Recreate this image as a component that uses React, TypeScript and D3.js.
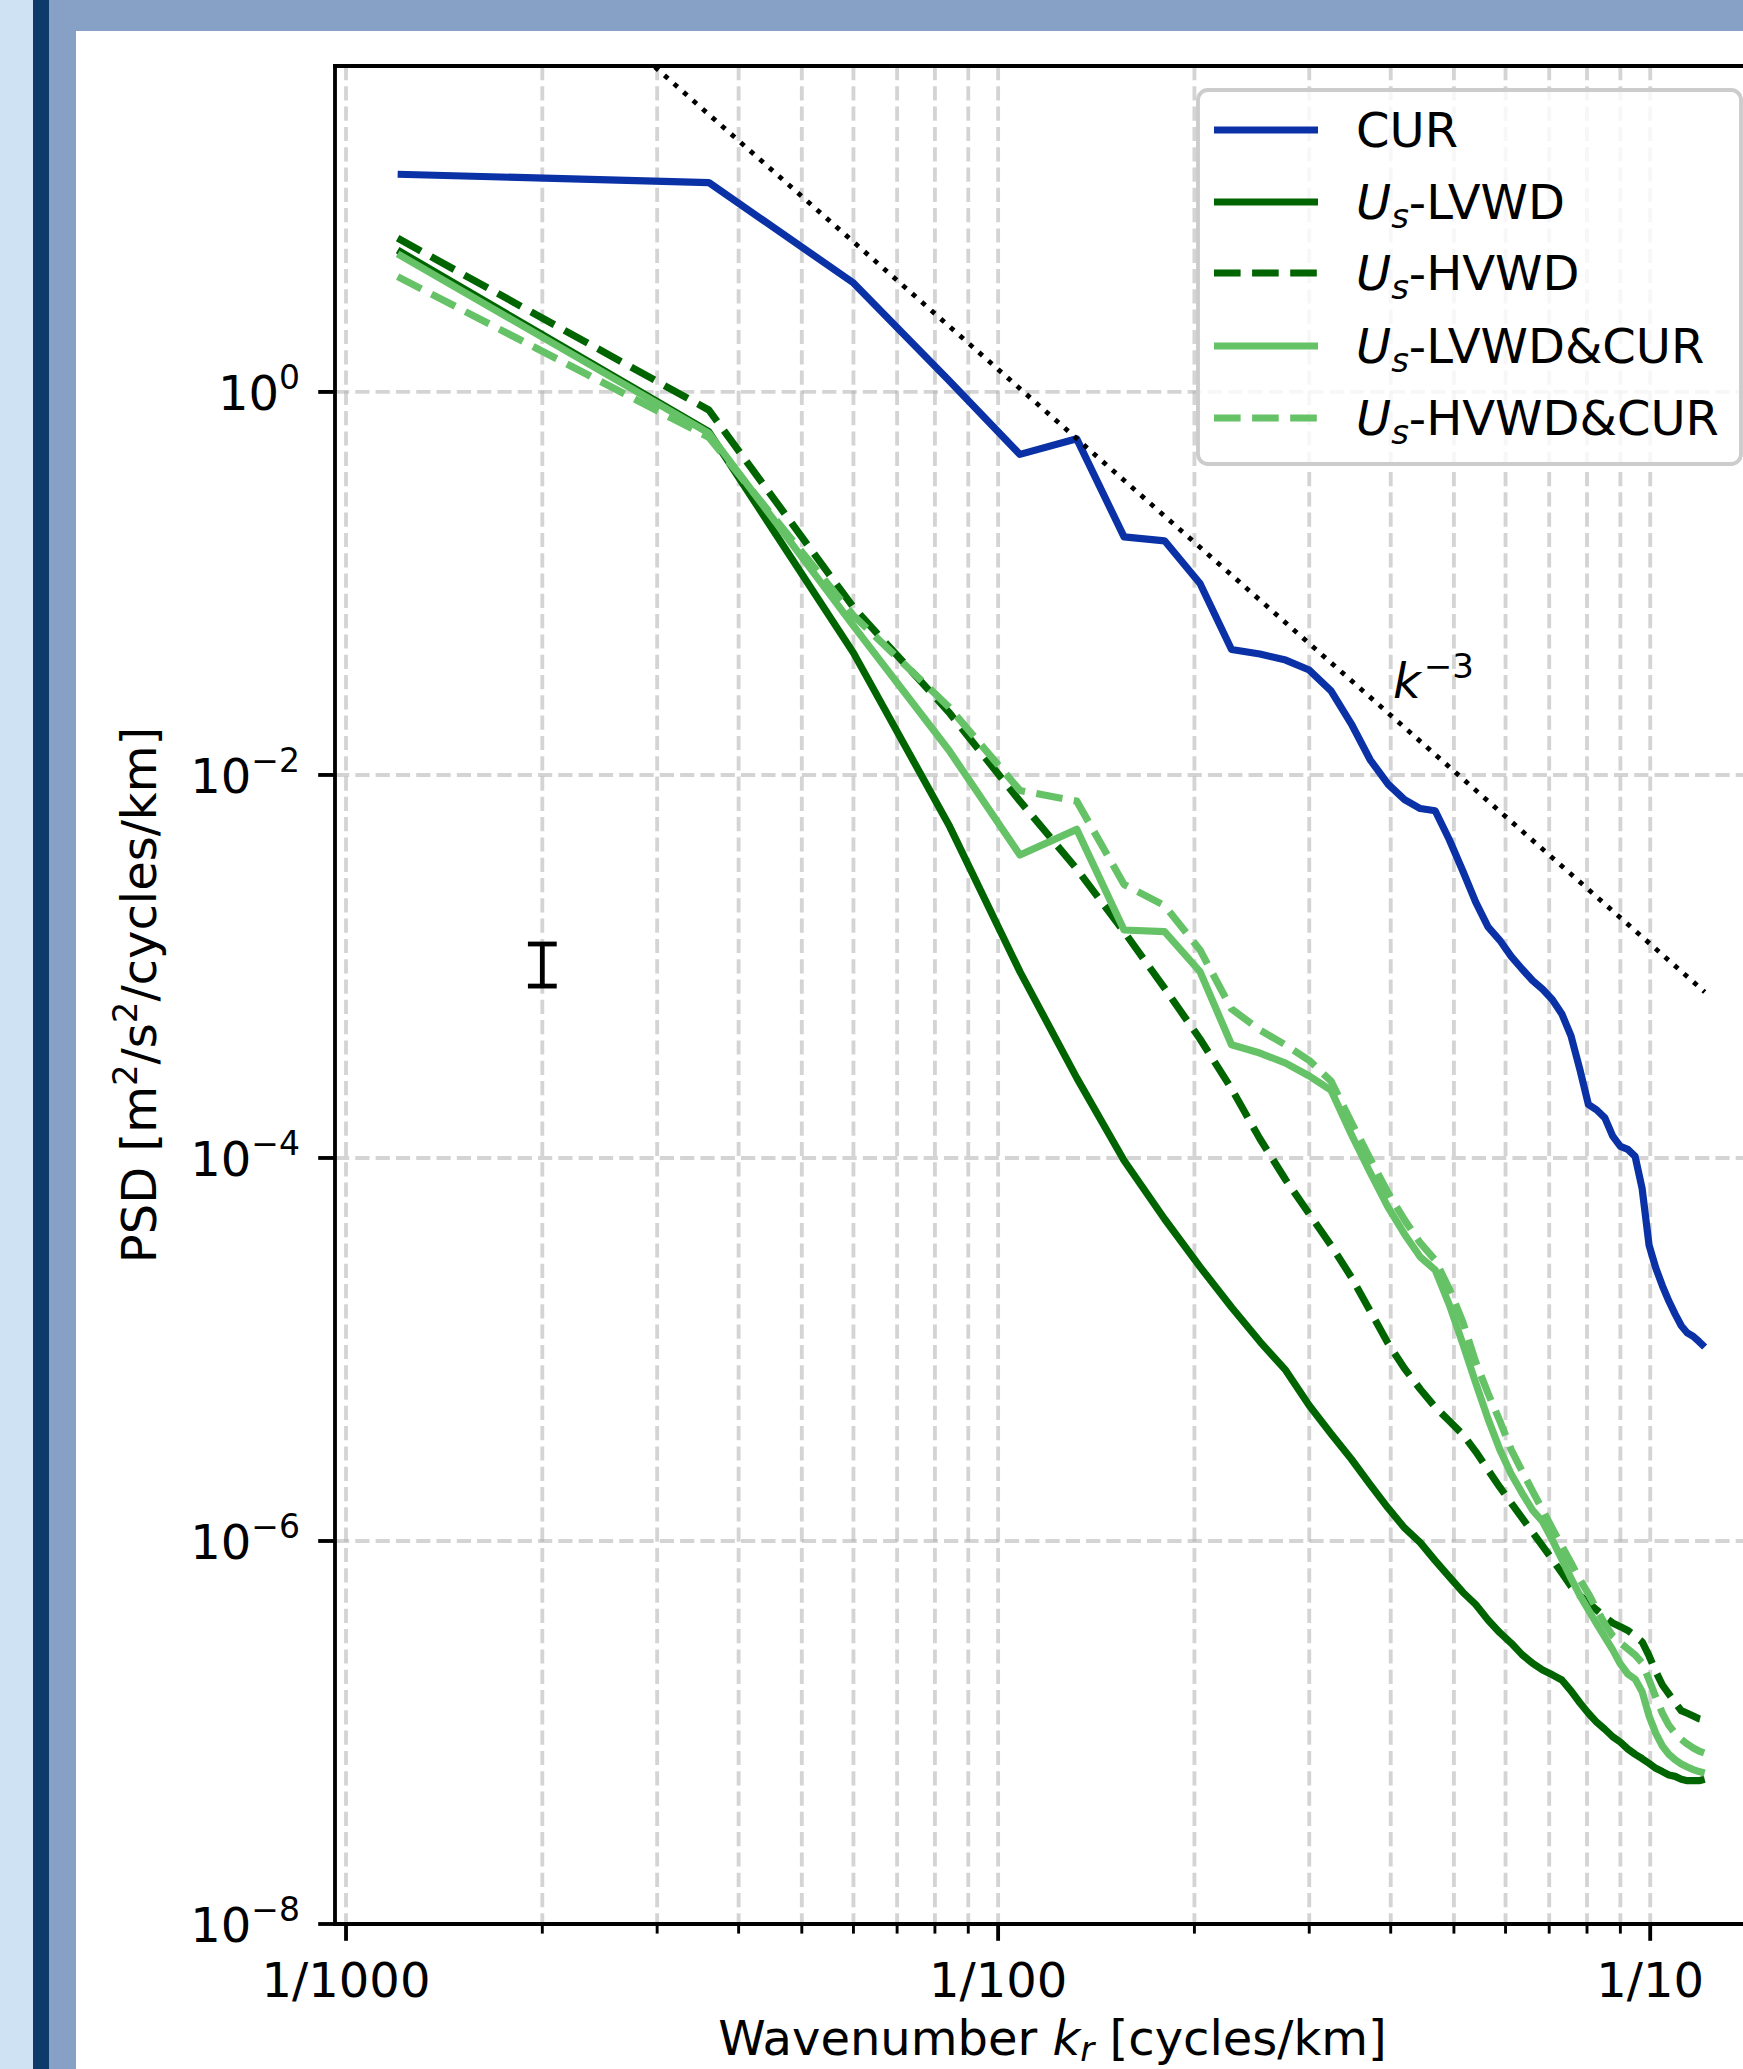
import React from 'react';
import * as d3 from 'd3';

const W = 1743;
const H = 2069;

// wavenumber bins (cycles/km)
const wavenumber = [
  0.0012, 0.0036, 0.006, 0.0084, 0.0108, 0.0132, 0.0156, 0.018, 0.0204, 0.0228,
  0.0252, 0.0276, 0.03, 0.0324, 0.0348, 0.0372, 0.0396, 0.042, 0.0444, 0.0468,
  0.0492, 0.0516, 0.054, 0.0564, 0.0588, 0.0612, 0.0636, 0.066, 0.0684, 0.0708,
  0.0732, 0.0756, 0.078, 0.0804, 0.0828, 0.0852, 0.0876, 0.09, 0.0924, 0.0948,
  0.0972, 0.0996, 0.102, 0.1044, 0.1068, 0.1092, 0.1116, 0.114, 0.1164, 0.1188,
  0.1212,
];

const psdCUR = [
  13.7, 12.4, 3.71, 1.15, 0.472, 0.569, 0.175, 0.167, 0.1, 0.0452,
  0.0428, 0.0398, 0.0353, 0.0275, 0.0185, 0.012, 0.00897, 0.00744, 0.00668, 0.0065,
  0.00459, 0.00315, 0.00217, 0.00161, 0.00137, 0.00113, 9.7e-4, 8.45e-4, 7.6e-4, 6.7e-4,
  5.65e-4, 4.34e-4, 2.9e-4, 1.9e-4, 1.78e-4, 1.62e-4, 1.3e-4, 1.15e-4, 1.11e-4, 1.02e-4,
  6.9e-5, 3.5e-5, 2.66e-5, 2.15e-5, 1.79e-5, 1.53e-5, 1.33e-5, 1.22e-5, 1.17e-5, 1.1e-5,
  1.03e-5,
];

const psdLVWD = [
  5.5, 0.62, 0.0434, 5.5e-3, 9.4e-4, 2.62e-4, 9.7e-5, 4.8e-5, 2.7e-5, 1.66e-5,
  1.1e-5, 7.8e-6, 5.1e-6, 3.63e-6, 2.68e-6, 1.97e-6, 1.49e-6, 1.17e-6, 9.8e-7, 7.9e-7,
  6.5e-7, 5.4e-7, 4.66e-7, 3.87e-7, 3.32e-7, 2.93e-7, 2.55e-7, 2.3e-7, 2.12e-7, 2.0e-7,
  1.88e-7, 1.65e-7, 1.43e-7, 1.26e-7, 1.13e-7, 1.04e-7, 9.5e-8, 8.9e-8, 8.2e-8, 7.7e-8,
  7.3e-8, 6.9e-8, 6.5e-8, 6.25e-8, 6.0e-8, 5.9e-8, 5.7e-8, 5.6e-8, 5.6e-8, 5.6e-8,
  5.7e-8,
];

const psdHVWD = [
  6.35, 0.805, 0.075, 0.0213, 7.3e-3, 3.23e-3, 1.52e-3, 7.7e-4, 4.18e-4, 2.3e-4,
  1.26e-4, 7.7e-5, 5.1e-5, 3.5e-5, 2.39e-5, 1.59e-5, 1.08e-5, 7.96e-6, 6.2e-6, 5.0e-6,
  4.23e-6, 3.6e-6, 2.93e-6, 2.35e-6, 1.91e-6, 1.58e-6, 1.32e-6, 1.11e-6, 9.4e-7, 8.0e-7,
  6.8e-7, 5.8e-7, 5.2e-7, 4.74e-7, 4.36e-7, 4.0e-7, 3.73e-7, 3.57e-7, 3.41e-7, 3.19e-7,
  2.97e-7, 2.51e-7, 2.08e-7, 1.77e-7, 1.59e-7, 1.43e-7, 1.3e-7, 1.26e-7, 1.22e-7, 1.18e-7,
  1.16e-7,
];

const psdLVWDCUR = [
  5.26, 0.61, 0.06, 0.0135, 3.82e-3, 5.2e-3, 1.55e-3, 1.52e-3, 9.4e-4, 3.9e-4,
  3.53e-4, 3.13e-4, 2.68e-4, 2.26e-4, 1.33e-4, 8.4e-5, 5.55e-5, 4.0e-5, 3.04e-5, 2.6e-5,
  1.71e-5, 1.07e-5, 6.7e-6, 4.34e-6, 3.0e-6, 2.24e-6, 1.78e-6, 1.45e-6, 1.26e-6, 1.01e-6,
  8.0e-7, 6.4e-7, 5.2e-7, 4.36e-7, 3.69e-7, 3.15e-7, 2.7e-7, 2.28e-7, 2.02e-7, 1.9e-7,
  1.63e-7, 1.22e-7, 9.9e-8, 8.5e-8, 7.7e-8, 7.2e-8, 6.85e-8, 6.6e-8, 6.4e-8, 6.25e-8,
  6.15e-8,
];

const psdHVWDCUR = [
  4.0, 0.58, 0.068, 0.0227, 8.3e-3, 7.3e-3, 2.68e-3, 2.08e-3, 1.22e-3, 6.0e-4,
  4.66e-4, 3.89e-4, 3.23e-4, 2.52e-4, 1.54e-4, 9.9e-5, 6.6e-5, 4.75e-5, 3.6e-5, 2.93e-5,
  2.07e-5, 1.39e-5, 8.6e-6, 5.9e-6, 4.24e-6, 3.0e-6, 2.32e-6, 1.82e-6, 1.45e-6, 1.16e-6,
  9.4e-7, 7.7e-7, 6.3e-7, 5.3e-7, 4.4e-7, 3.69e-7, 3.19e-7, 2.93e-7, 2.73e-7, 2.54e-7,
  2.31e-7, 1.88e-7, 1.53e-7, 1.26e-7, 1.09e-7, 9.9e-8, 9.2e-8, 8.7e-8, 8.3e-8, 8.0e-8,
  7.8e-8,
];

// k^-3 reference line end points
const refK = [0.0012, 0.1212];
const refPSD = [760, 7.36e-4];

// error bar (confidence interval)
const errK = 0.002;
const errLow = 7.9e-4;
const errHigh = 1.31e-3;

const yTicks = [1, 1e-2, 1e-4, 1e-6, 1e-8];
const yTickExp = ['0', '\u22122', '\u22124', '\u22126', '\u22128'];
const xMajorTicks = [0.001, 0.01, 0.1];
const xMajorLabels = ['1/1000', '1/100', '1/10'];

const seriesNames = ['CUR', 'LVWD', 'HVWD', 'LVWD&CUR', 'HVWD&CUR'];
const seriesColors = ['#0a31a6', '#006400', '#006400', '#66c266', '#66c266'];
const seriesDashed = [false, false, true, false, true];
const seriesValues = [psdCUR, psdLVWD, psdHVWD, psdLVWDCUR, psdHVWDCUR];

const FONT = '"DejaVu Sans", sans-serif';

const App = () => {
  const left = 335, right = 1770, top = 66, bottom = 1924;

  const x = d3.scaleLog()
    .domain([Math.pow(10, -3.0169), Math.pow(10, -0.8163)])
    .range([left, right]);
  const y = d3.scaleLog()
    .domain([1e-8, Math.pow(10, 1.702)])
    .range([bottom, top]);

  const allTicks = x.ticks().filter(t => t >= x.domain()[0] && t <= x.domain()[1]);
  const isMajor = (t: number) => Math.abs(Math.log10(t) - Math.round(Math.log10(t))) < 1e-6;

  const line = d3.line<[number, number]>()
    .x(d => x(d[0]))
    .y(d => y(d[1]));

  const refPath = line(refK.map((k, i) => [k, refPSD[i]] as [number, number]));

  const legendRows = [130, 202, 273, 346, 418];

  return (
    <svg width={W} height={H} style={{ position: 'absolute', left: 0, top: 0 }}
      fontFamily={FONT}>
      <defs>
        <clipPath id="plotClip">
          <rect x={left} y={top} width={right - left} height={bottom - top} />
        </clipPath>
      </defs>

      {/* page frame */}
      <rect x={0} y={0} width={W} height={H} fill="#ffffff" />
      <rect x={0} y={0} width={33} height={H} fill="#cfe2f3" />
      <rect x={33} y={0} width={16} height={H} fill="#0c3a6b" />
      <rect x={49} y={0} width={27} height={H} fill="#87a0c5" />
      <rect x={49} y={0} width={W - 49} height={31} fill="#87a0c5" />

      {/* grid */}
      <g stroke="#b0b0b0" strokeOpacity={0.55} strokeWidth={3.84} strokeDasharray="14.2,6.1">
        {allTicks.map((t, i) => (
          <line key={'gx' + i} x1={x(t)} x2={x(t)} y1={top} y2={bottom} />
        ))}
        {yTicks.map((t, i) => (
          <line key={'gy' + i} x1={left} x2={right} y1={y(t)} y2={y(t)} />
        ))}
      </g>

      {/* data */}
      <g clipPath="url(#plotClip)" fill="none">
        {seriesValues.map((vals, si) => (
          <path key={seriesNames[si]}
            d={line(wavenumber.map((k, i) => [k, vals[i]] as [number, number])) || ''}
            stroke={seriesColors[si]} strokeWidth={7.2}
            strokeDasharray={seriesDashed[si] ? '26.6,11.5' : undefined}
            strokeLinejoin="round" />
        ))}
        <path d={refPath || ''} stroke="#000" strokeWidth={4.8} strokeDasharray="4.8,7.9" />
        <g stroke="#000" strokeWidth={4.8}>
          <line x1={x(errK)} x2={x(errK)} y1={y(errLow)} y2={y(errHigh)} />
          <line x1={x(errK) - 14.4} x2={x(errK) + 14.4} y1={y(errLow)} y2={y(errLow)} />
          <line x1={x(errK) - 14.4} x2={x(errK) + 14.4} y1={y(errHigh)} y2={y(errHigh)} />
        </g>
      </g>

      {/* k^-3 label */}
      <text x={1393} y={698} fontSize={48} fontStyle="italic" fill="#000">
        k<tspan fontStyle="normal" fontSize={34} dx={3} dy={-20}>{'\u22123'}</tspan>
      </text>

      {/* spines */}
      <g stroke="#000" strokeWidth={3.84} strokeLinecap="square">
        <line x1={left} x2={left} y1={top} y2={bottom} />
        <line x1={left} x2={right} y1={bottom} y2={bottom} />
        <line x1={left} x2={right} y1={top} y2={top} />
        <line x1={right} x2={right} y1={top} y2={bottom} />
      </g>

      {/* x ticks */}
      <g stroke="#000">
        {allTicks.map((t, i) => (
          <line key={'tx' + i} x1={x(t)} x2={x(t)} y1={bottom}
            y2={bottom + (isMajor(t) ? 16.8 : 9.6)}
            strokeWidth={isMajor(t) ? 3.84 : 2.9} />
        ))}
      </g>
      {xMajorTicks.map((t, i) => (
        <text key={'lx' + i} x={x(t)} y={1997} fontSize={48} textAnchor="middle" fill="#000">
          {xMajorLabels[i]}
        </text>
      ))}

      {/* y ticks */}
      <g stroke="#000" strokeWidth={3.84}>
        {yTicks.map((t, i) => (
          <line key={'ty' + i} x1={left - 16.8} x2={left} y1={y(t)} y2={y(t)} />
        ))}
      </g>
      {yTicks.map((t, i) => (
        <text key={'ly' + i} x={300} y={y(t) + 18} fontSize={48} textAnchor="end" fill="#000">
          10<tspan fontSize={33} dy={-21}>{yTickExp[i]}</tspan>
        </text>
      ))}

      {/* axis labels */}
      <text x={(left + right) / 2} y={2055} fontSize={48} textAnchor="middle" fill="#000">
        {'Wavenumber '}
        <tspan fontStyle="italic">k</tspan>
        <tspan fontStyle="italic" fontSize={34} dy={6}>r</tspan>
        <tspan dy={-6}>{' [cycles/km]'}</tspan>
      </text>
      <text transform={`translate(156,${(top + bottom) / 2}) rotate(-90)`} fontSize={48}
        textAnchor="middle" fill="#000">
        {'PSD [m'}
        <tspan fontSize={34} dy={-19}>2</tspan>
        <tspan dy={19}>/s</tspan>
        <tspan fontSize={34} dy={-19}>2</tspan>
        <tspan dy={19}>/cycles/km]</tspan>
      </text>

      {/* legend */}
      <rect x={1198} y={90} width={543} height={374} rx={10} ry={10}
        fill="#ffffff" fillOpacity={0.8} stroke="#cccccc" strokeWidth={3.84} />
      {seriesNames.map((name, i) => (
        <g key={'lg' + i}>
          <line x1={1214} x2={1318} y1={legendRows[i]} y2={legendRows[i]}
            stroke={seriesColors[i]} strokeWidth={7.2}
            strokeDasharray={seriesDashed[i] ? '26.6,11.5' : undefined} />
          <text x={1356} y={legendRows[i] + 17} fontSize={48} fill="#000">
            {i === 0 ? name : (
              <>
                <tspan fontStyle="italic">U</tspan>
                <tspan fontStyle="italic" fontSize={34} dy={9}>s</tspan>
                <tspan dy={-9}>{'-' + name}</tspan>
              </>
            )}
          </text>
        </g>
      ))}
    </svg>
  );
};

export default App;
